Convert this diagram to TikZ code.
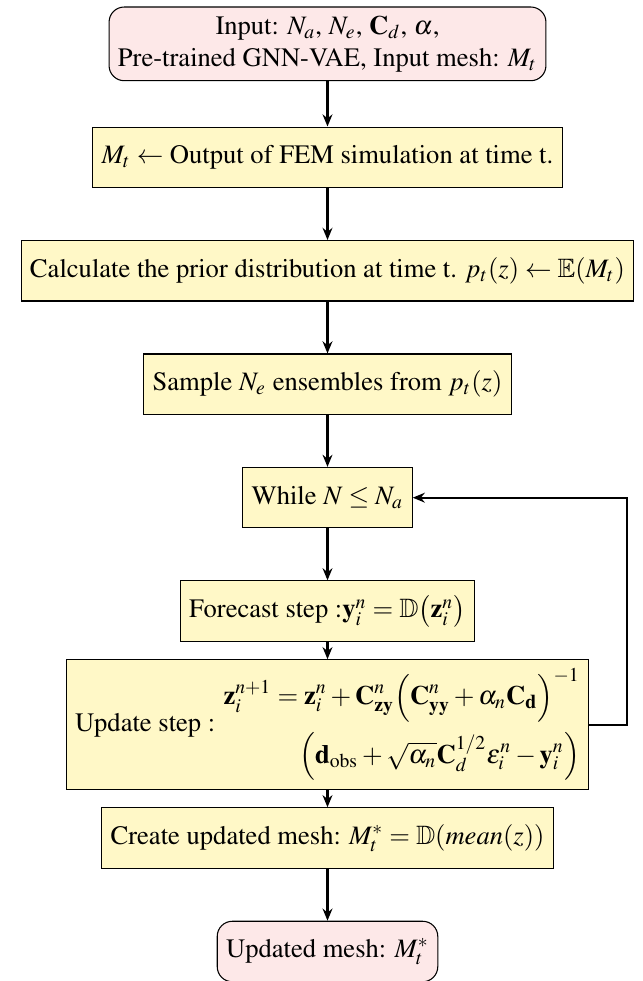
\documentclass[tikz,border=0pt]{standalone}
\usepackage[T1]{fontenc}
\usepackage{amsmath}
\usepackage{amssymb}
\usepackage{mathptmx}
\usetikzlibrary{arrows.meta}

\definecolor{startpink}{RGB}{253,232,232}
\definecolor{procyellow}{RGB}{255,248,199}

\begin{document}
\begin{tikzpicture}[
		terminal/.style = {draw, rounded corners=2mm, fill=startpink, align=center, minimum height=0.8cm},
		process/.style = {draw, fill=procyellow, align=center, minimum height=0.8cm},
		flow/.style = {-{Stealth[length=1.6mm, width=1.3mm]}, thick}
	]
		\useasboundingbox (-4.33,0.58) rectangle (4.17,-12.39);
		\node[terminal] (input) at (0,0) {Input: $N_a$, $N_e$, $\mathbf{C}_d$, $\alpha$,\\ Pre-trained GNN-VAE, Input mesh: $M_t$};
		\node[process] (fem) at (0,-1.5) {$M_t \leftarrow$ Output of FEM simulation at time t.};
		\node[process] (prior) at (0,-3) {Calculate the prior distribution at time t. $p_t(z) \leftarrow \mathbb{E}(M_t)$};
		\node[process] (sample) at (0,-4.5) {Sample $N_e$ ensembles from $p_t(z)$};
		\node[process] (while) at (0,-6) {While $N \leq N_a$};
		\node[process] (forecast) at (0,-7.5) {Forecast step :$\mathbf{y}_i^n = \mathbb{D}\bigl(\mathbf{z}_i^n\bigr)$};
		\node[process] (update) at (0,-9) {Update step : $\begin{aligned}
				\mathbf{z}_i^{n+1} = \mathbf{z}_i^n + \mathbf{C}^n_{\mathbf{zy}} \Bigl(\mathbf{C}^n_{\mathbf{yy}} + \alpha_n \mathbf{C}_{\mathbf{d}}\Bigr)^{-1}\\
				\Bigl(\mathbf{d}_{\text{obs}} + \sqrt{\alpha_n}\mathbf{C}_d^{1/2}\varepsilon_i^n - \mathbf{y}_i^n\Bigr)
			\end{aligned}$};
		\node[process] (create) at (0,-10.5) {Create updated mesh: $M_t^* = \mathbb{D}(mean(z))$};
		\node[terminal] (output) at (0,-12) {Updated mesh: $M_t^*$};

		\draw[flow] (input) -- (fem);
		\draw[flow] (fem) -- (prior);
		\draw[flow] (prior) -- (sample);
		\draw[flow] (sample) -- (while);
		\draw[flow] (while) -- (forecast);
		\draw[flow] (forecast) -- (update);
		\draw[flow] (update) -- (create);
		\draw[flow] (create) -- (output);
		% loop back
		\draw[flow] (update.east) -- ++(0.5,0) |- (while.east);
	\end{tikzpicture}
\end{document}
